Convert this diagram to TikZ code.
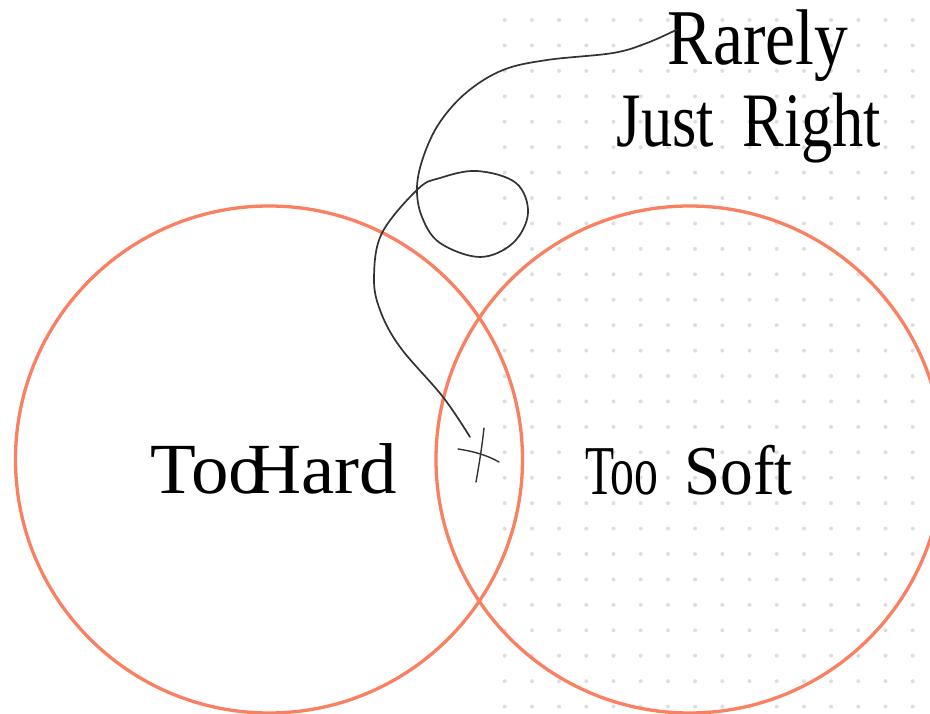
\documentclass[tikz,border=0pt]{standalone}
\usepackage{fontspec}
\setmainfont{Liberation Serif}
\definecolor{ringc}{RGB}{250,128,98}
\definecolor{dotc}{RGB}{222,222,222}
\definecolor{inkc}{RGB}{50,50,50}
\begin{document}
\begin{tikzpicture}[x=1pt,y=-1pt,
  ring/.style={circle,draw=ringc,line width=3.3pt,minimum size=507pt,inner sep=0pt},
  ink/.style={draw=inkc,line width=1.7pt,line cap=round},
  lbl/.style={anchor=base,inner sep=0pt,text=black}]
\useasboundingbox (0,0) rectangle (930,714);
\clip (0,0) rectangle (930,714);
\fill[white] (0,0) rectangle (930,714);
% dot grid
\foreach \i in {0,...,15}{
  \foreach \j in {0,...,27}{
    \fill[dotc] (504.7+27.2*\i,20+25.43*\j) circle[radius=2pt];
  }
}
% circles
\node[ring] (hard) at (269,459.5) {};
\node[ring] (soft) at (689.5,459.5) {};
% labels
\node[lbl] (hardlbl) at (274,493) {\fontsize{72}{72}\selectfont\scalebox{1.04}[1]{Too\hspace{-36pt} Hard}};
\node[lbl] (softlbl) at (689,494) {\fontsize{70}{70}\selectfont\scalebox{0.68}[1]{Too}\hspace{26pt}\scalebox{0.93}[1]{Soft}};
\node[lbl] (rarely) at (758,65) {\fontsize{79}{79}\selectfont\scalebox{0.855}[1]{Rarely}};
\node[lbl] (right) at (749,147) {\fontsize{77}{77}\selectfont\scalebox{0.81}[1]{Just\hspace{16pt} Right}};
% curve
\coordinate (cstart) at (676,30);
\coordinate (cend) at (470,437);
\draw[ink] plot[smooth,tension=0.6] coordinates {
 (676,30) (647,43) (613,53) (547,60) (503,70) (467,92) (440,122) (424,155)
 (417,187) (422,217) (440,243) (480,257) (513,243) (528,213) (516,183)
 (477,171) (440,178) (418,189) (382,233) (374,277) (380,310) (400,347)
 (443,397) (470,437)};
% cross mark
\coordinate (xa) at (458,449);
\coordinate (xb) at (499,462);
\coordinate (xc) at (484,428);
\coordinate (xd) at (476,482);
\draw[ink,line width=1.4pt] (xa) .. controls (472,451) and (487,455) .. (xb);
\draw[ink,line width=1.4pt] (xc) .. controls (482,447) and (479,465) .. (xd);
\end{tikzpicture}
\end{document}
